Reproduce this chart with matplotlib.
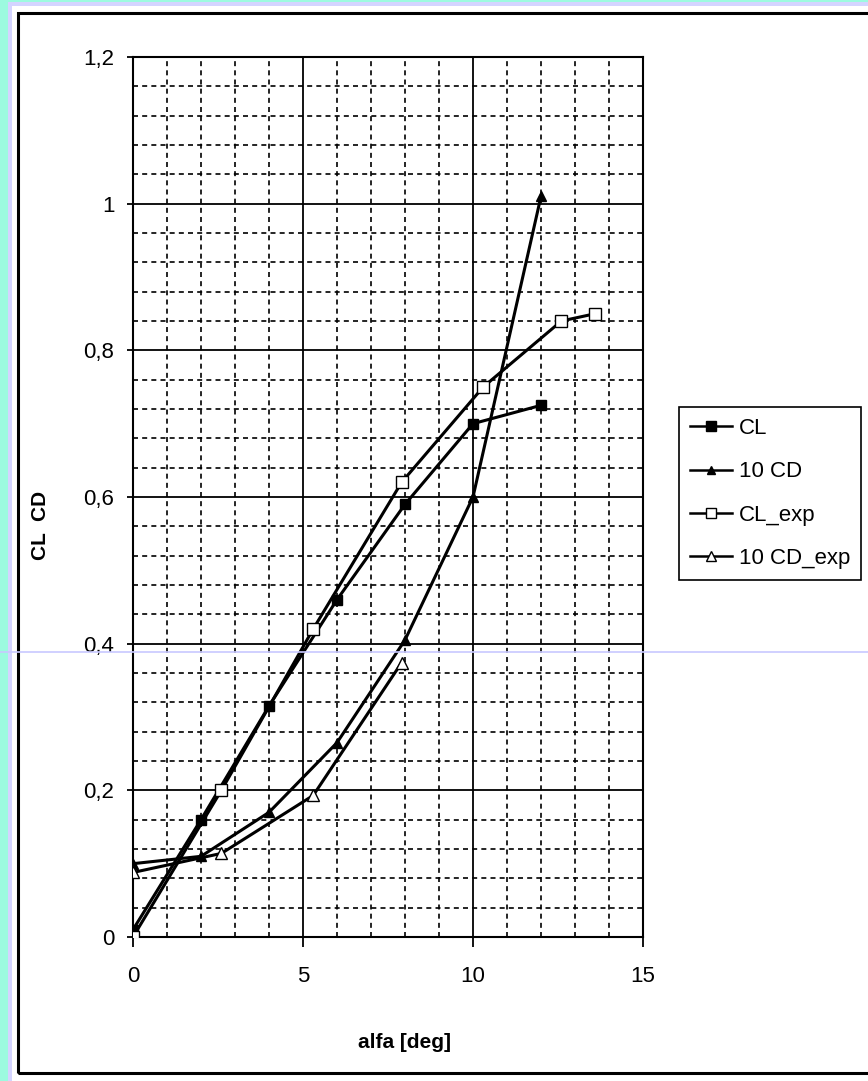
import numpy as np
import matplotlib
matplotlib.use('Agg')
from matplotlib import pyplot as plt
from matplotlib.patches import Rectangle
from matplotlib.lines import Line2D
from matplotlib.ticker import MultipleLocator, FuncFormatter

plt.rcParams['font.family'] = ['Liberation Sans Narrow', 'Liberation Sans', 'DejaVu Sans']

# valori
alfa = [0, 2, 4, 6, 8, 10, 12]
cl = [0.01, 0.16, 0.315, 0.46, 0.59, 0.70, 0.725]
cd10 = [0.10, 0.11, 0.17, 0.265, 0.405, 0.60, 1.01]

alfa_exp = [0, 2.6, 5.3, 7.9, 10.3, 12.6, 13.6]
cl_exp = [0.0, 0.20, 0.42, 0.62, 0.75, 0.84, 0.85]

alfa_exp_cd = [0, 2.6, 5.3, 7.9]
cd10_exp = [0.088, 0.114, 0.193, 0.374]

W, H = 868, 1081
fig = plt.figure(figsize=(W / 100, H / 100), dpi=100)
fig.patch.set_facecolor('white')

# cornice esterna
def px(x, y):
    return x / W, 1 - y / H

fig.patches.append(Rectangle((0, 0), 1, 1, transform=fig.transFigure,
                             facecolor='#9cfadf', edgecolor='none', zorder=-3))
fig.patches.append(Rectangle((8 / W, 0), 1, 1 - 2 / H, transform=fig.transFigure,
                             facecolor='#d4d4ff', edgecolor='none', zorder=-2))
fig.patches.append(Rectangle((12 / W, 0), 1, 1 - 6 / H, transform=fig.transFigure,
                             facecolor='white', edgecolor='none', zorder=-1))
x0, y0 = px(18, 1073)
x1, y1 = px(880, 13)
fig.patches.append(Rectangle((x0, y0), x1 - x0, y1 - y0, transform=fig.transFigure,
                             facecolor='none', edgecolor='black', lw=2.2, zorder=0))

ax = fig.add_axes([133 / W, 1 - 937 / H, (643 - 133) / W, (937 - 57) / H])
ax.set_facecolor('white')

ax.set_xlim(0, 15)
ax.set_ylim(0, 1.2)
ax.xaxis.set_major_locator(MultipleLocator(5))
ax.xaxis.set_minor_locator(MultipleLocator(1))
ax.yaxis.set_major_locator(MultipleLocator(0.2))
ax.yaxis.set_minor_locator(MultipleLocator(0.04))
ax.yaxis.set_major_formatter(FuncFormatter(lambda v, p: ('%g' % round(v, 2)).replace('.', ',')))

ax.grid(which='major', color='black', lw=1.3, ls='-')
ax.grid(which='minor', color='black', lw=1.2, ls=(0, (3, 2.5)))
ax.set_axisbelow(True)

ax.tick_params(axis='y', which='major', direction='out', length=4.5, width=1.3,
               pad=9, labelsize=16)
ax.tick_params(axis='x', which='major', direction='out', length=7, width=1.3,
               pad=14, labelsize=16)
ax.tick_params(which='minor', length=0)
for s in ax.spines.values():
    s.set_linewidth(1.5)

ax.plot(alfa, cl, color='black', lw=2.2, marker='s', ms=7.5, mfc='black',
        mec='black', label='CL', zorder=5)
ax.plot(alfa, cd10, color='black', lw=2.2, marker='^', ms=7, mfc='black',
        mec='black', label='10 CD', zorder=5)
ax.plot(alfa_exp, cl_exp, color='black', lw=2.2, marker='s', ms=8, mfc='white',
        mec='black', mew=1, label='CL_exp', zorder=6)
ax.plot(alfa_exp_cd, cd10_exp, color='black', lw=2.2, marker='^', ms=8, mfc='white',
        mec='black', mew=1, label='10 CD_exp', zorder=6)

ax.set_xticks([0, 5, 10, 15])

leg = ax.legend(loc='upper left', bbox_to_anchor=px(679, 407), bbox_transform=fig.transFigure,
                borderaxespad=0, fancybox=False, edgecolor='black', framealpha=1,
                fontsize=16, handlelength=1.9, handletextpad=0.3, labelspacing=1.0,
                borderpad=0.5, markerscale=0.9)
leg.get_frame().set_linewidth(1.2)
for line in leg.get_lines():
    line.set_linewidth(1.8)

fig.text(40 / W, 1 - 525 / H, 'CL  CD', rotation=90, ha='center', va='center',
         fontsize=15, fontweight='bold')
fig.text(405 / W, 1 - 1043 / H, 'alfa [deg]', ha='center', va='center',
         fontsize=15, fontweight='bold')

# linea azzurra sottile che attraversa l'immagine
fig.add_artist(Line2D([0, 1], [1 - 652 / H, 1 - 652 / H], transform=fig.transFigure,
                      color='#c8c8ff', lw=1.2, zorder=10))

fig.savefig('out.png', dpi=100)
